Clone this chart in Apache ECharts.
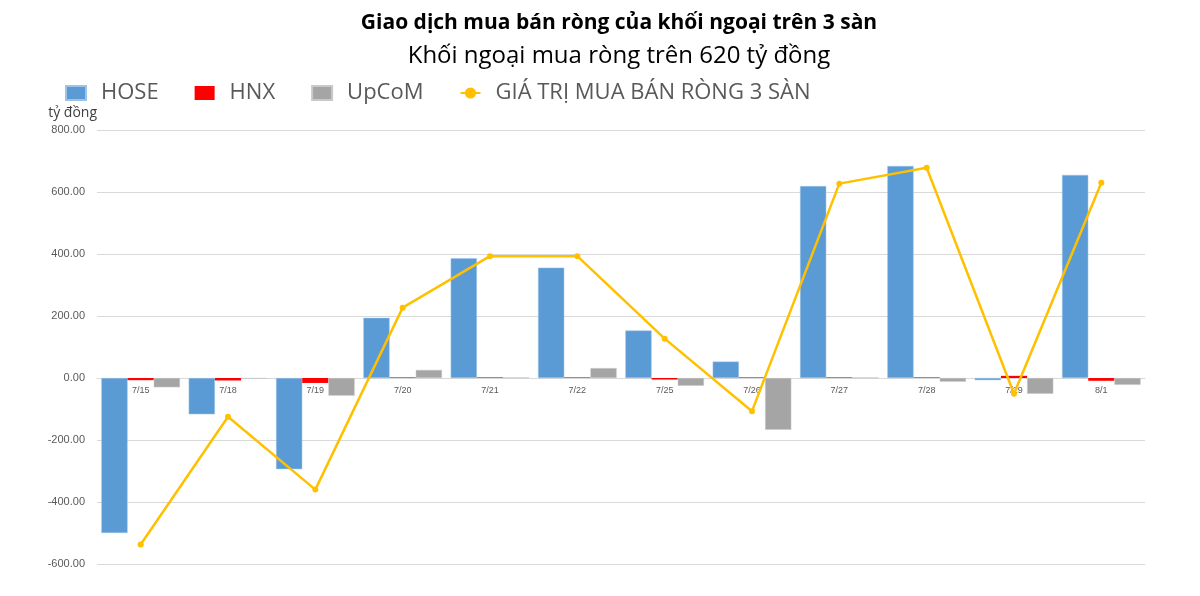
<!DOCTYPE html>
<html><head><meta charset="utf-8">
<script src="https://cdn.jsdelivr.net/npm/echarts@6/dist/echarts.min.js"></script>
<style>html,body{margin:0;padding:0;background:#fff}#c{width:1200px;height:596px}</style>
</head><body><div id="c"></div>
<script>
const categories = ['7/15','7/18','7/19','7/20','7/21','7/22','7/25','7/26','7/27','7/28','7/29','8/1'];
const hose  = [-500, -117, -294, 194, 386, 356, 153, 53, 619, 684, -7, 655];
const hnx   = [-7, -8, -16, 2, 2, 2, -5, 2, 2, 2, 7, -9];
const upcom = [-30, -2, -57, 26, 2, 32, -25, -167, 2, -12, -51, -22];
const total = [-537, -125, -360, 227, 393, 393, 127, -107, 627, 678, -51, 630];
const yTicks = {min: -600, max: 800, interval: 200};

const chart = echarts.init(document.getElementById('c'));
const fontFam = '"Open Sans","Noto Sans",sans-serif';
chart.setOption({
  animation: false,
  backgroundColor: '#fff',
  title: [
    {text: 'Giao dịch mua bán ròng của khối ngoại trên 3 sàn', left: 614, top: 8, textAlign: 'center',
     textStyle: {fontSize: 21, fontWeight: 'bold', color: '#000', fontFamily: fontFam}},
    {text: 'Khối ngoại mua ròng trên 620 tỷ đồng', left: 614, top: 39, textAlign: 'center',
     textStyle: {fontSize: 24, fontWeight: 'normal', color: '#000', fontFamily: fontFam}}
  ],
  legend: {
    left: 60, top: 77, itemGap: 36, itemWidth: 20, itemHeight: 14,
    textStyle: {fontSize: 22, color: '#595959', fontFamily: fontFam, padding: [0, 0, 0, 10]},
    data: [
      {name: 'HOSE', icon: 'rect'},
      {name: 'HNX', icon: 'rect'},
      {name: 'UpCoM', icon: 'rect'},
      {name: 'GIÁ TRỊ MUA BÁN RÒNG 3 SÀN'}
    ]
  },
  grid: {left: 97, right: 55, top: 130, bottom: 32, containLabel: false},
  xAxis: {
    type: 'category', data: categories,
    offset: -186,
    axisLine: {onZero: false, lineStyle: {color: '#d9d9d9', width: 1}},
    axisTick: {show: false},
    axisLabel: {fontSize: 9, color: '#595959', margin: 8},
    z: 1
  },
  yAxis: {
    type: 'value', min: yTicks.min, max: yTicks.max, interval: yTicks.interval,
    name: 'tỷ đồng', nameLocation: 'end', nameGap: 10,
    nameTextStyle: {fontSize: 14, color: '#404040', align: 'right', fontFamily: fontFam},
    axisLine: {show: false}, axisTick: {show: false},
    axisLabel: {fontSize: 11, color: '#595959', margin: 12, formatter: v => v.toFixed(2)},
    splitLine: {lineStyle: {color: '#d9d9d9', width: 1}}
  },
  series: [
    {name: 'HOSE', type: 'bar', data: hose, barGap: '0%', barCategoryGap: '10%',
     itemStyle: {color: '#5B9BD5', borderColor: '#9dc3e6', borderWidth: 0.5}},
    {name: 'HNX', type: 'bar', data: hnx, barGap: '0%', barCategoryGap: '10%',
     itemStyle: {color: '#FF0000'}},
    {name: 'UpCoM', type: 'bar', data: upcom, barGap: '0%', barCategoryGap: '10%',
     itemStyle: {color: '#A5A5A5', borderColor: '#c9c9c9', borderWidth: 0.5}},
    {name: 'GIÁ TRỊ MUA BÁN RÒNG 3 SÀN', type: 'line', data: total, z: 5,
     symbol: 'circle', symbolSize: 6,
     lineStyle: {color: '#FFC000', width: 2.5}, itemStyle: {color: '#FFC000'}}
  ]
});
</script></body></html>
